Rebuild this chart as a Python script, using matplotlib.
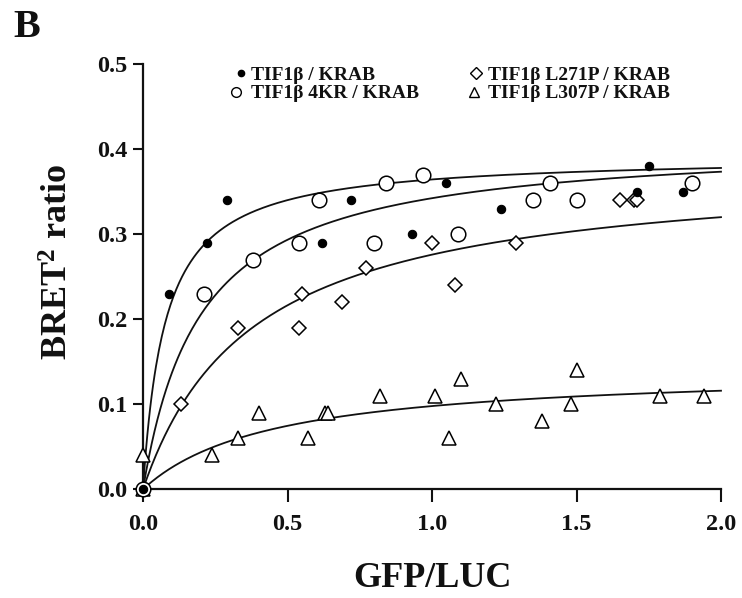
import numpy as np
import matplotlib
matplotlib.use("Agg")
import matplotlib.pyplot as plt
from matplotlib.lines import Line2D

plt.rcParams['font.family'] = ['Liberation Serif', 'DejaVu Serif']
plt.rcParams['font.weight'] = 'bold'
plt.rcParams['mathtext.fontset'] = 'custom'
plt.rcParams['mathtext.rm'] = 'Liberation Serif:bold'
plt.rcParams['mathtext.it'] = 'Liberation Serif:bold'
plt.rcParams['mathtext.bf'] = 'Liberation Serif:bold'

# BRET saturation data (GFP/LUC vs BRET2 ratio)
x_wt = [0, 0.09, 0.22, 0.29, 0.62, 0.72, 0.93, 1.05, 1.24, 1.71, 1.75, 1.87]
y_wt = [0, 0.23, 0.29, 0.34, 0.29, 0.34, 0.30, 0.36, 0.33, 0.35, 0.38, 0.35]

x_4kr = [0, 0.21, 0.38, 0.54, 0.61, 0.80, 0.84, 0.97, 1.09, 1.35, 1.41, 1.50, 1.90]
y_4kr = [0, 0.23, 0.27, 0.29, 0.34, 0.29, 0.36, 0.37, 0.30, 0.34, 0.36, 0.34, 0.36]

x_l271p = [0, 0.13, 0.33, 0.54, 0.55, 0.69, 0.77, 1.00, 1.08, 1.29, 1.65, 1.70, 1.71]
y_l271p = [0, 0.10, 0.19, 0.19, 0.23, 0.22, 0.26, 0.29, 0.24, 0.29, 0.34, 0.34, 0.34]

x_l307p = [0, 0, 0.24, 0.33, 0.40, 0.57, 0.63, 0.64, 0.82, 1.01, 1.06, 1.10,
           1.22, 1.38, 1.48, 1.50, 1.79, 1.94]
y_l307p = [0, 0.04, 0.04, 0.06, 0.09, 0.06, 0.09, 0.09, 0.11, 0.11, 0.06, 0.13,
           0.10, 0.08, 0.10, 0.14, 0.11, 0.11]

# one-site hyperbolic fits: y = Bmax * x / (Kd + x)
bmax = {'wt': 0.3926, '4kr': 0.411, 'l271p': 0.381, 'l307p': 0.1422}
kd = {'wt': 0.077, '4kr': 0.200, 'l271p': 0.38, 'l307p': 0.452}

labels = {'wt': 'TIF1\u03b2 / KRAB', '4kr': 'TIF1\u03b2 4KR / KRAB',
          'l271p': 'TIF1\u03b2 L271P / KRAB', 'l307p': 'TIF1\u03b2 L307P / KRAB'}

x_ticks = [0.0, 0.5, 1.0, 1.5, 2.0]
y_ticks = [0.0, 0.1, 0.2, 0.3, 0.4, 0.5]

W, H = 742, 598
fig = plt.figure(figsize=(W / 100, H / 100), dpi=100)
ax = fig.add_axes([143 / W, 1 - 489.3 / H, (721 - 143) / W, (489.3 - 64.3) / H])

styles = {
    'wt': dict(marker='o', ms=6.0, mfc='black', mec='black', mew=0.8),
    '4kr': dict(marker='o', ms=10.5, mfc='white', mec='black', mew=1.1),
    'l271p': dict(marker='D', ms=7.5, mfc='white', mec='black', mew=1.1),
    'l307p': dict(marker='^', ms=10, mfc='white', mec='black', mew=1.1),
}
data = {'wt': (x_wt, y_wt), '4kr': (x_4kr, y_4kr),
        'l271p': (x_l271p, y_l271p), 'l307p': (x_l307p, y_l307p)}

xs = np.linspace(0, 2.0, 400)
for key in ['l307p', 'l271p', '4kr', 'wt']:
    ax.plot(xs, bmax[key] * xs / (kd[key] + xs), color='#111111', lw=1.3,
            zorder=2, clip_on=False)
for key in ['l307p', 'l271p', '4kr', 'wt']:
    xd, yd = data[key]
    ax.plot(xd, yd, ls='none', zorder=3, clip_on=False, **styles[key])

ax.set_xlim(0, 2.0)
ax.set_ylim(0, 0.5)
ax.set_xticks(x_ticks)
ax.set_yticks(y_ticks)
ax.set_xticklabels([f'{v:.1f}' for v in x_ticks])
ax.set_yticklabels([f'{v:.1f}' for v in y_ticks])
for s in ['top', 'right']:
    ax.spines[s].set_visible(False)
for s in ['left', 'bottom']:
    ax.spines[s].set_linewidth(1.6)
    ax.spines[s].set_color('#111111')
ax.tick_params(axis='x', direction='out', length=9, width=1.5, pad=9,
               labelsize=17.5, colors='#111111')
ax.tick_params(axis='y', direction='out', length=7.5, width=1.5, pad=4,
               labelsize=17.5, colors='#111111')
for lab in ax.get_xticklabels() + ax.get_yticklabels():
    lab.set_fontweight('bold')

fig.text(432 / W, 1 - 587 / H, 'GFP/LUC', fontsize=26, fontweight='bold',
         ha='center', va='baseline', color='#111111')
fig.text(59 / W, 1 - 261.5 / H, 'BRET$^{2}$ ratio', fontsize=26,
         fontweight='bold', rotation=90, ha='center', va='center',
         color='#111111')
fig.text(13 / W, 1 - 37 / H, 'B', fontsize=29, fontweight='bold',
         ha='left', va='baseline', color='#111111')

# legend drawn as marker + text pairs in two columns
legend_marker = {'wt': (241, 72.5, 4.5), '4kr': (236, 91.5, 7.0),
                 'l271p': (476, 72.5, 6.0), 'l307p': (474, 91.5, 7.5)}
legend_text = {'wt': (251, 80), '4kr': (251, 98.5),
               'l271p': (488, 80), 'l307p': (488, 98.5)}
for key in ['wt', '4kr', 'l271p', 'l307p']:
    mx, my, ms = legend_marker[key]
    st = dict(styles[key])
    st['ms'] = ms
    st['mew'] = 1.0
    fig.add_artist(Line2D([mx / W], [1 - my / H], ls='none',
                          transform=fig.transFigure, **st))
    tx, ty = legend_text[key]
    fig.text(tx / W, 1 - ty / H, labels[key], fontsize=14, fontweight='bold',
             ha='left', va='baseline', color='#111111')

fig.savefig('out.png', dpi=100)
